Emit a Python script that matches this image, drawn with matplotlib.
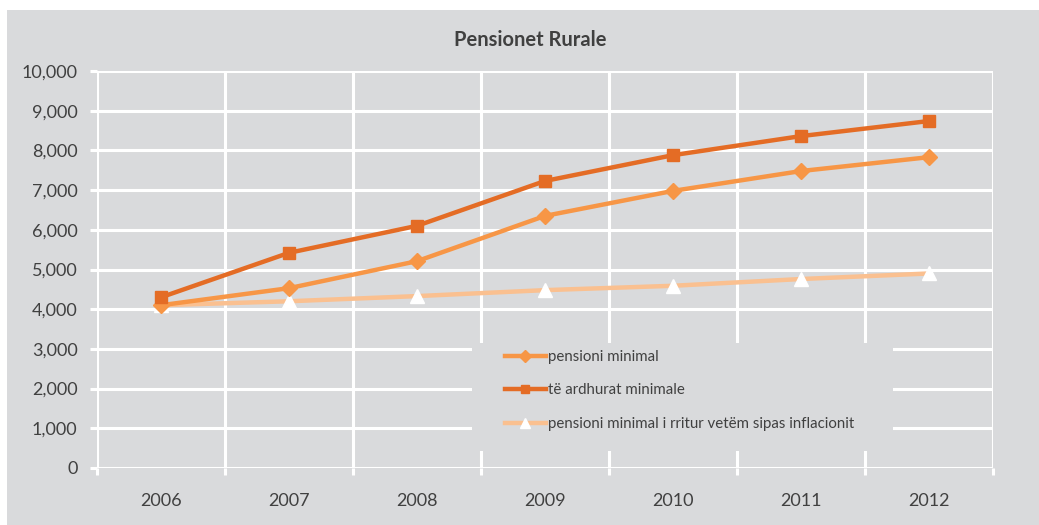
import numpy as np
import matplotlib.pyplot as plt
from matplotlib.patches import Rectangle

plt.rcParams['font.family'] = ['Lato', 'DejaVu Sans']

years = ['2006', '2007', '2008', '2009', '2010', '2011', '2012']
pensioni_minimal = [4100, 4530, 5210, 6350, 6980, 7480, 7830]
te_ardhurat_minimale = [4300, 5420, 6100, 7230, 7880, 8360, 8740]
pensioni_inflacion = [4100, 4200, 4330, 4480, 4590, 4760, 4900]

c_pens = '#F79646'
c_ardh = '#E46C25'
c_infl = '#FAC090'
bg = '#D9DADC'
txt = '#404040'

W, H = 1039, 525
fig = plt.figure(figsize=(W / 100, H / 100), dpi=100)
fig.patch.set_facecolor('white')
# grey chart panel, behind the axes
fig.patches.append(Rectangle((7 / W, 0), 1 - 7 / W, 1 - 10 / H, transform=fig.transFigure,
                             facecolor=bg, edgecolor='none', zorder=-10))

ax = fig.add_axes([97 / W, 1 - 468 / H, (993 - 97) / W, (468 - 71) / H])
ax.set_facecolor(bg)
for s in ax.spines.values():
    s.set_visible(False)

x = np.arange(len(years))
ax.set_xlim(-0.5, len(years) - 0.5)
ax.set_ylim(0, 10000)
ax.set_yticks(np.arange(0, 10001, 1000))
ax.set_yticklabels([f'{v:,}' for v in range(0, 10001, 1000)])
ax.set_xticks(x)
ax.set_xticklabels(years)
ax.set_xticks(np.arange(-0.5, len(years), 1), minor=True)

ax.grid(True, axis='y', which='major', color='white', lw=2.2, zorder=1)
ax.grid(True, axis='x', which='minor', color='white', lw=2.2, zorder=1)
ax.tick_params(axis='x', which='major', length=0, pad=18, labelsize=13, labelcolor=txt)
ax.tick_params(axis='x', which='minor', length=5, width=2.2, color='white')
ax.tick_params(axis='y', length=5, width=2.2, color='white', pad=9, labelsize=13, labelcolor=txt)

# legend area covers the grid
ax.add_patch(Rectangle(((472 - 97) / 896, (468 - 451) / 397), (893 - 472) / 896, (451 - 343) / 397,
                       transform=ax.transAxes, facecolor=bg, edgecolor='none', zorder=2))

ax.plot(x, pensioni_inflacion, color=c_infl, lw=3.2, marker='^', ms=10.5,
        mfc='white', mec='white', zorder=3, label='pensioni minimal i rritur vetëm sipas inflacionit')
ax.plot(x, pensioni_minimal, color=c_pens, lw=3.2, marker='D', ms=8.5,
        mfc=c_pens, mec=c_pens, zorder=4, label='pensioni minimal')
ax.plot(x, te_ardhurat_minimale, color=c_ardh, lw=3.2, marker='s', ms=8.5,
        mfc=c_ardh, mec=c_ardh, zorder=5, label='të ardhurat minimale')

h, l = ax.get_legend_handles_labels()
order = [1, 2, 0]
leg = ax.legend([h[i] for i in order], [l[i] for i in order], loc='upper left',
                bbox_to_anchor=((505 - 97) / 896, (468 - 350) / 397), frameon=False,
                fontsize=10.8, labelspacing=1.3, handlelength=2.7, handletextpad=0.2,
                borderaxespad=0, borderpad=0, markerscale=0.7)
for t in leg.get_texts():
    t.set_color(txt)
leg.set_zorder(6)

fig.text(530 / W, 1 - 40 / H, 'Pensionet Rurale', ha='center', va='center',
         fontsize=14.5, fontweight='bold', color=txt)

fig.savefig('out.png', dpi=100, facecolor=fig.get_facecolor())
